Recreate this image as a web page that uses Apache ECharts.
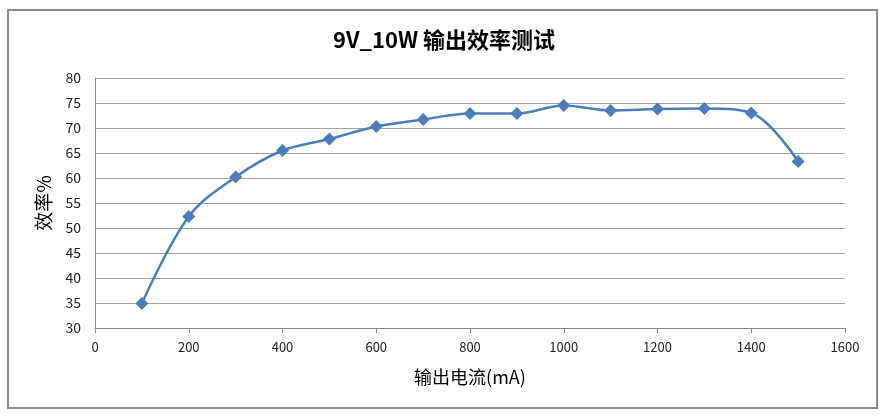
<!DOCTYPE html>
<html><head><meta charset="utf-8">
<script src="https://cdn.jsdelivr.net/npm/echarts@6/dist/echarts.min.js"></script>
<style>html,body{margin:0;padding:0;background:#fff}#c{width:888px;height:419px}</style>
</head><body><div id="c"></div>
<script>
const currents = [100,200,300,400,500,600,700,800,900,1000,1100,1200,1300,1400,1500];
const efficiency = [34.9,52.3,60.2,65.5,67.8,70.3,71.7,72.9,72.9,74.5,73.5,73.8,73.9,73.0,63.3];
const titleText = '9V_10W 输出效率测试';
const xName = '输出电流(mA)';
const yName = '效率%';

const chart = echarts.init(document.getElementById('c'));
const font = '"Noto Sans CJK SC", "Liberation Sans", sans-serif';
chart.setOption({
  animation:false,
  backgroundColor:'#fff',
  title:{text:titleText,left:'center',top:24,textStyle:{fontFamily:font,fontSize:22,fontWeight:'bold',color:'#000'}},
  graphic:[{type:'rect',shape:{x:8,y:10,width:869,height:398},style:{fill:'none',stroke:'#8a8a8a',lineWidth:2}}],
  grid:{left:95,right:43,top:78,bottom:91},
  xAxis:{type:'value',min:0,max:1600,interval:200,
    name:xName,nameLocation:'middle',nameGap:40,
    nameTextStyle:{fontFamily:font,fontSize:18,color:'#000'},
    axisLine:{lineStyle:{color:'#888'}},axisTick:{show:true,lineStyle:{color:'#888'}},
    axisLabel:{fontFamily:font,fontSize:13,color:'#222',margin:13,formatter:v=>String(v)},
    splitLine:{show:false}},
  yAxis:{type:'value',min:30,max:80,interval:5,
    name:yName,nameLocation:'middle',nameGap:42,nameRotate:90,
    nameTextStyle:{fontFamily:font,fontSize:19,color:'#000'},
    axisLine:{show:true,lineStyle:{color:'#888'}},axisTick:{show:false},
    axisLabel:{fontFamily:font,fontSize:14,color:'#222',margin:14},
    splitLine:{lineStyle:{color:'#a0a0a0'}}},
  series:[{type:'line',data:currents.map((x,i)=>[x,efficiency[i]]),smooth:0.35,
    symbol:'diamond',symbolSize:13,
    lineStyle:{color:'#4a7ebb',width:2.5},itemStyle:{color:'#4a7ebb'}}]
});
</script></body></html>
